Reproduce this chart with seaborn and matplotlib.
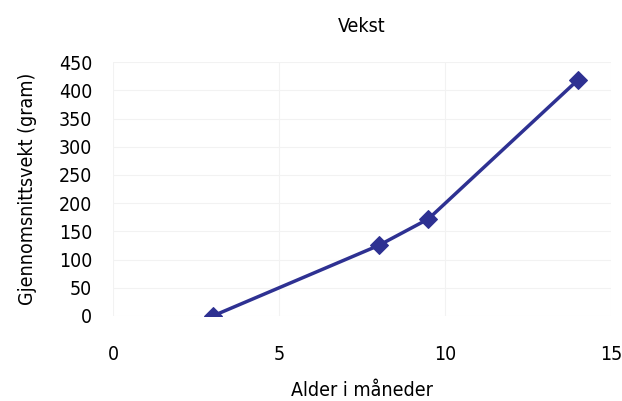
import matplotlib
matplotlib.use("Agg")
import matplotlib.pyplot as plt
import seaborn as sns
import pandas as pd

# data
alder = [3, 8, 9.5, 14]
vekt = [0, 125, 172, 418]
x_ticks = [0, 5, 10, 15]
y_ticks = [0, 50, 100, 150, 200, 250, 300, 350, 400, 450]

df = pd.DataFrame({"Alder": alder, "Vekt": vekt})

sns.set_style("white")
plt.rcParams['font.family'] = ['DejaVu Sans']
plt.rcParams['font.stretch'] = 'condensed'
plt.rcParams['text.color'] = "black"
plt.rcParams['axes.labelcolor'] = "black"
plt.rcParams['xtick.color'] = "black"
plt.rcParams['ytick.color'] = "black"

fig = plt.figure(figsize=(6.22, 4.01), dpi=100)
ax = fig.add_axes([0.182, 0.212, 0.800, 0.633])

sns.lineplot(data=df, x="Alder", y="Vekt", ax=ax, color="#2E3192",
             marker="D", markersize=9, linewidth=2.5,
             markeredgecolor="#2E3192")

ax.set_xlim(0, 15)
ax.set_ylim(0, 450)
ax.set_xticks(x_ticks)
ax.set_yticks(y_ticks)
ax.grid(True, color="#f2f2f2", linewidth=0.8)
ax.set_axisbelow(True)
for s in ax.spines.values():
    s.set_visible(False)
ax.tick_params(axis="x", length=0, pad=21, labelsize=14)
ax.tick_params(axis="y", length=0, pad=15, labelsize=14)

ax.set_title("Vekst", fontsize=14, pad=22)
ax.set_xlabel("Alder i måneder", fontsize=14, labelpad=12)
ax.set_ylabel("Gjennomsnittsvekt (gram)", fontsize=14, labelpad=16)

fig.savefig("out.png", dpi=100)
